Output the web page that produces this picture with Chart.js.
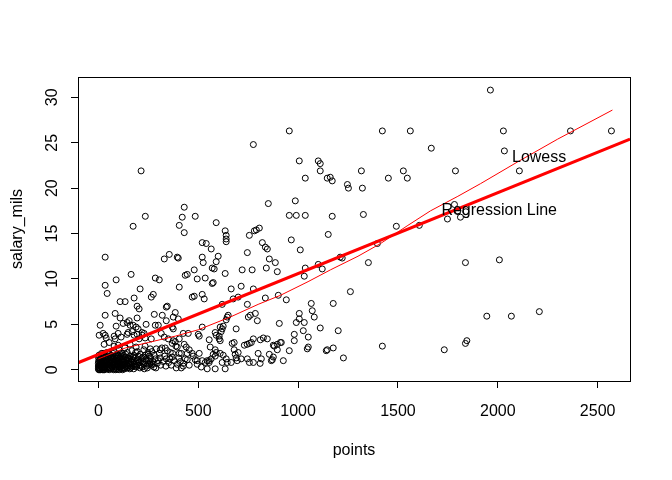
<!DOCTYPE html>
<html>
<head>
<meta charset="utf-8">
<script src="https://cdn.jsdelivr.net/npm/chart.js@4"></script>
<style>
  body { margin: 0; background: #fff; }
  #wrap { width: 672px; height: 480px; }
</style>
</head>
<body>
<div id="wrap"><canvas id="scatter-chart"></canvas></div>
<script>
// points vs salary_mils: [points, salary_mils]
const players = [
  // upper / sparse part
  [776,24.8],[214,21.9],[851,18.3],[430,17.9],[235,16.9],[420,16.8],[485,16.9],[174,15.8],[405,15.9],[590,16.2],
  [635,15.3],[806,15.6],[781,15.3],[791,15.4],[956,26.3],[1422,26.3],[1562,26.3],[1667,24.4],[1006,23.0],[1101,23.0],
  [1111,22.7],[1111,21.9],[1317,21.9],[1527,21.9],[1788,21.9],[1036,21.1],[1146,21.1],[1161,21.2],[1171,20.8],[1452,21.1],
  [1547,21.1],[1247,20.4],[1252,20.0],[1322,20.0],[986,18.6],[956,17.0],[991,17.0],[1036,17.0],[1171,16.9],[1327,17.1],
  [1492,15.8],[1607,15.9],[1783,18.2],[1748,16.6],[1813,16.8],[1963,30.8],[2028,26.3],[2364,26.3],[2569,26.3],[2033,24.1],
  [2108,21.9],[1800,17.5],[1840,17.4],[1838,11.8],[2008,12.1],[1945,5.9],[2068,5.9],[2208,6.4],[1838,2.9],[1845,3.2],
  [1732,2.2],[966,14.3],[1151,14.9],[1011,13.2],[1352,11.8],[1101,11.6],[1036,11.2],[1121,11.1],[1031,10.3],[1211,12.4],
  [1221,12.3],[1397,13.9],[1262,8.6],[941,7.7],[1066,7.3],[1176,7.3],[1006,6.2],[1071,6.5],[1081,5.8],[991,5.2],
  [1006,5.6],[1031,5.2],[1111,4.6],[1201,4.3],[981,3.9],[1026,4.3],[1051,3.6],[916,3.0],[981,3.2],[1422,2.6],
  [1046,2.3],[1051,2.5],[956,2.1],[1141,2.1],[1146,2.2],[1176,2.4],[926,1.0],[1227,1.3],[886,11.8],[896,10.8],
  [901,8.2],[906,5.1],[881,2.6],[896,2.8],[911,3.0],[896,2.2],[871,1.1],
  // 400 - 900
  [430,15.1],[640,14.8],[640,14.4],[640,14.1],[756,14.8],[821,14.0],[836,13.5],[846,13.3],[520,14.0],[540,13.9],
  [565,13.3],[746,12.9],[520,12.4],[525,11.8],[590,11.9],[600,12.5],[570,11.2],[580,11.1],[480,11.0],[435,10.4],
  [445,10.5],[635,10.6],[720,11.0],[770,11.0],[841,11.2],[856,12.2],[495,10.0],[535,10.1],[575,9.6],[570,9.5],
  [665,8.9],[715,9.2],[776,8.9],[470,8.0],[480,8.1],[520,8.3],[530,7.8],[675,7.8],[700,8.0],[836,7.9],
  [746,7.2],[620,7.2],[650,6.0],[645,5.8],[640,5.5],[751,5.8],[761,6.0],[786,6.2],[796,5.4],[610,4.7],
  [625,4.8],[620,4.5],[690,4.5],[500,3.9],[505,3.7],[585,4.1],[590,3.8],[555,3.3],[605,3.4],[610,3.2],
  [680,3.0],[756,2.9],[766,3.0],[776,3.4],[731,2.7],[811,3.3],[826,3.5],[846,3.4],[876,2.7],[680,2.2],
  [700,1.9],[585,2.2],[625,1.6],[640,1.2],[665,0.8],[690,1.3],[695,1.0],[715,1.2],[746,1.2],[756,0.8],
  [816,1.2],[856,1.7],[866,1.0],[876,1.4],[776,0.8],[430,2.8],[440,2.5],[445,1.8],[455,2.2],[470,1.8],
  [475,1.5],[485,1.1],[495,0.6],[520,1.0],[535,0.8],[545,1.0],[555,0.8],[505,1.8],[565,1.2],[585,1.5],
  [610,1.8],[620,0.8],[415,0.2],[425,0.7],[435,1.2],[415,1.8],[375,4.5],[425,4.0],[450,4.0],[520,4.7],
  [615,4.2],[605,3.7],[375,3.2],[395,2.5],[405,1.8],[445,1.1],[495,1.0],[555,1.0],[575,1.7],[560,2.5],
  [590,1.9],[645,0.8],[670,2.9],[685,1.7],[745,2.8],[390,0.2],[425,0.4],[455,0.5],[515,0.3],[545,0.1],
  [585,0.1],[635,0.1],[800,1.8],[810,0.7],
  // 0 - 400, above the cluster
  [34,12.4],[330,12.2],[355,12.7],[395,12.4],[400,12.3],[89,9.9],[164,10.5],[34,9.3],[44,8.4],[285,10.1],
  [305,9.9],[209,8.9],[405,9.1],[275,8.3],[265,8.0],[109,7.5],[134,7.5],[179,7.9],[194,7.0],[204,6.7],
  [340,6.9],[345,7.0],[34,6.0],[84,6.2],[109,5.7],[144,5.2],[154,5.4],[194,5.7],[280,6.1],[320,6.0],
  [9,4.9],[89,4.8],[174,4.9],[189,4.7],[285,4.9],[300,4.9],[340,5.4],[375,5.8],[385,6.3],[400,5.6],
  [4,3.8],[24,4.0],[34,3.8],[39,3.5],[84,3.4],[114,3.6],[149,4.1],[179,3.8],[194,3.9],[204,3.4],
  [229,4.0],[234,3.5],[265,3.4],[315,4.0],[330,3.6],[350,3.4],[370,2.9],[385,3.1],[405,3.4],[124,5.1],
  [159,4.9],[199,4.5],[219,4.1],[239,5.0],[370,4.7],[79,3.7],[99,4.0],[144,3.9],[169,4.2],[219,3.8],
  [29,2.8],[54,3.0],[79,2.6],[99,2.7],[159,2.8],[189,2.5],[234,2.6],[260,2.3],[310,2.2],[335,2.4],
  [360,1.9],[250,1.7],[280,1.6],[310,1.3],[340,1.2],[370,1.4],
  // dense cluster near the origin
  [0,0.1],[2,0.3],[5,0.5],[8,0.2],[10,0.8],[12,1.2],[15,0.4],[18,0.1],[20,0.6],[22,1.5],
  [25,0.9],[27,0.3],[30,1.1],[32,0.2],[35,0.7],[38,1.4],[40,0.5],[42,1.9],[45,0.1],[48,0.9],
  [50,1.3],[52,0.4],[55,0.7],[58,1.7],[60,0.2],[62,1.0],[65,0.5],[68,1.4],[70,0.3],[72,0.8],
  [75,1.2],[78,0.1],[80,2.0],[82,0.6],[85,1.0],[88,0.3],[90,1.6],[92,0.9],[95,0.2],[98,1.3],
  [100,0.5],[103,2.2],[105,0.8],[108,1.1],[110,0.3],[113,1.5],[115,0.6],[118,0.9],[120,1.8],[123,0.2],
  [125,1.2],[128,0.5],[130,0.9],[133,2.4],[135,1.4],[138,0.3],[140,0.7],[143,1.1],[145,1.9],[148,0.4],
  [150,1.0],[155,0.6],[158,1.5],[160,0.2],[165,1.2],[168,2.1],[170,0.8],[175,0.4],[178,1.6],[182,0.9],
  [185,1.3],[190,0.3],[195,2.0],[198,0.7],[202,1.1],[206,0.5],[210,1.7],[215,1.0],[220,0.3],[224,1.4],
  [228,2.2],[232,0.8],[238,1.2],[242,0.4],[248,1.9],[252,1.0],[258,0.6],[262,1.3],[268,2.0],[272,0.9],
  [278,0.3],[285,1.2],[290,2.3],[295,0.7],[300,1.0],[305,1.8],[312,0.5],[318,2.4],[325,0.9],[332,1.5],
  [338,0.4],[345,2.1],[352,0.8],[358,1.2],[365,0.5],[372,1.8],[380,1.0],[388,2.6],[395,0.6],[402,1.3],
  [410,0.9],[1,0.9],[3,1.6],[6,0.0],[9,1.1],[13,0.6],[16,1.8],[19,0.3],[23,1.0],[26,0.0],
  [29,1.6],[33,0.5],[36,1.2],[41,0.8],[44,0.3],[47,1.5],[53,0.9],[57,0.2],[63,1.3],[67,0.7],
  [73,1.8],[77,0.5],[83,1.1],[87,0.0],[93,1.3],[97,0.7],[102,1.0],[107,0.2],[112,1.8],[117,0.4],
  [122,1.4],[127,0.8],[132,0.1],[137,1.7],[142,0.5],[147,1.3],[152,0.8],[157,0.1],[163,0.9],[167,0.3],
  [173,1.4],[180,0.6],[187,1.9],[193,0.5],[200,1.5],[208,0.2],[218,1.3],[226,0.6],[235,1.6],[245,0.2],
  [255,1.5],[265,0.5],
  [0,0.4],[0,0.7],[1,1.3],[2,0.0],[4,0.2],[4,1.0],[7,0.6],[7,1.4],[11,0.0],[11,0.4],
  [14,0.9],[14,1.5],[17,0.2],[17,0.7],[21,0.0],[21,1.2],[24,0.5],[24,1.8],[28,0.2],[28,0.8],
  [31,0.0],[31,1.4],[34,0.3],[37,0.9],[39,0.1],[43,1.1],[46,0.6],[49,0.2],[51,1.7],[54,0.0],
  [56,1.1],[59,0.5],[61,1.5],[64,0.1],[66,0.9],[69,0.3],[71,1.1],[74,0.6],[76,0.0],[79,0.9],
  [81,1.5],[84,0.3],[86,0.7],[89,1.2],[91,0.1],[94,0.6],[96,1.7],[99,0.3],[101,1.5],[104,0.0],
  [106,1.3],[109,0.6],[111,0.9],[114,0.1],[116,1.2],[119,0.5],[121,0.0],[124,0.9],[126,1.6],[129,0.2],
  [134,0.6],[139,1.0],[144,0.2],[149,0.7],[154,1.2],[159,0.4],[164,0.6],[171,1.1],[177,0.1],[184,0.4],
  [196,1.0],[204,0.8],[213,0.4],[222,0.9],[230,0.1],[240,1.0],[250,0.6],[260,0.9],[275,0.6],[288,0.2]
];

// lowess curve
const lowessX = [0, 35, 135, 250, 385, 500, 660, 800, 912, 1050, 1162, 1300, 1413, 1550, 1663, 1800, 1914, 2100, 2300, 2574];
const lowessY = [1.2, 1.5, 2.4, 3.0, 3.7, 4.4, 5.8, 7.2, 8.2, 9.7, 11.0, 12.5, 13.9, 15.9, 17.5, 19.1, 20.5, 22.9, 25.4, 28.6];

// regression line (abline)
const regIntercept = 1.68;
const regSlope = 0.00891;

const xTicks = [0, 500, 1000, 1500, 2000, 2500];
const yTicks = [0, 5, 10, 15, 20, 25, 30];
const xRange = [-102, 2662];
const yRange = [-1.24, 32.24];

const textLabels = [
  { text: "Lowess", x: 2207, y: 23.4 },
  { text: "Regression Line", x: 2007, y: 17.5 }
];

const FONT = "'Liberation Sans', Arial, sans-serif";

const boxAndText = {
  id: 'boxAndText',
  afterDraw(chart) {
    const ctx = chart.ctx, a = chart.chartArea;
    ctx.save();
    ctx.strokeStyle = '#000';
    ctx.lineWidth = 1;
    ctx.strokeRect(Math.round(a.left) + 0.5, Math.round(a.top) + 0.5,
                   Math.round(a.right - a.left), Math.round(a.bottom - a.top));
    ctx.fillStyle = '#000';
    ctx.font = '16px ' + FONT;
    ctx.textAlign = 'center';
    ctx.textBaseline = 'middle';
    textLabels.forEach(l => {
      ctx.fillText(l.text, chart.scales.x.getPixelForValue(l.x), chart.scales.y.getPixelForValue(l.y));
    });
    ctx.restore();
  }
};

new Chart(document.getElementById("scatter-chart"), {
  type: 'scatter',
  data: {
    datasets: [{
      data: xRange.map(x => ({ x: x, y: regIntercept + regSlope * x })),
      showLine: true,
      borderColor: "#ff0000",
      borderWidth: 3,
      pointRadius: 0,
      fill: false
    }, {
      data: lowessX.map((x, i) => ({ x: x, y: lowessY[i] })),
      showLine: true,
      borderColor: "#ff0000",
      borderWidth: 1,
      pointRadius: 0,
      fill: false
    }, {
      data: players.map(p => ({ x: p[0], y: p[1] })),
      pointStyle: 'circle',
      pointRadius: 3,
      borderWidth: 1,
      borderColor: "#000",
      backgroundColor: "rgba(0,0,0,0)"
    }]
  },
  options: {
    responsive: true,
    maintainAspectRatio: false,
    animation: false,
    layout: { padding: { top: 77, right: 42, left: 0, bottom: 0 } },
    plugins: { legend: { display: false }, tooltip: { enabled: false } },
    scales: {
      x: {
        type: 'linear',
        min: xRange[0],
        max: xRange[1],
        afterBuildTicks: s => { s.ticks = xTicks.map(v => ({ value: v })); },
        afterFit: s => { s.height = 99; },
        grid: { drawOnChartArea: false, drawTicks: true, tickLength: 7, color: '#000' },
        border: { display: false },
        ticks: { color: '#000', padding: 14, maxRotation: 0, callback: v => String(v), font: { family: FONT, size: 16 } },
        title: { display: true, text: 'points', color: '#000', padding: { top: 0, bottom: 20 }, font: { family: FONT, size: 16 } }
      },
      y: {
        type: 'linear',
        min: yRange[0],
        max: yRange[1],
        afterBuildTicks: s => { s.ticks = yTicks.map(v => ({ value: v })); },
        afterFit: s => { s.width = 78; },
        grid: { drawOnChartArea: false, drawTicks: true, tickLength: 7, color: '#000' },
        border: { display: false },
        ticks: { color: '#000', padding: 10, minRotation: 90, maxRotation: 90, crossAlign: 'center', callback: v => String(v), font: { family: FONT, size: 16 } },
        title: { display: true, text: 'salary_mils', color: '#000', padding: { top: 8, bottom: 0 }, font: { family: FONT, size: 16 } }
      }
    }
  },
  plugins: [boxAndText]
});
</script>
</body>
</html>
